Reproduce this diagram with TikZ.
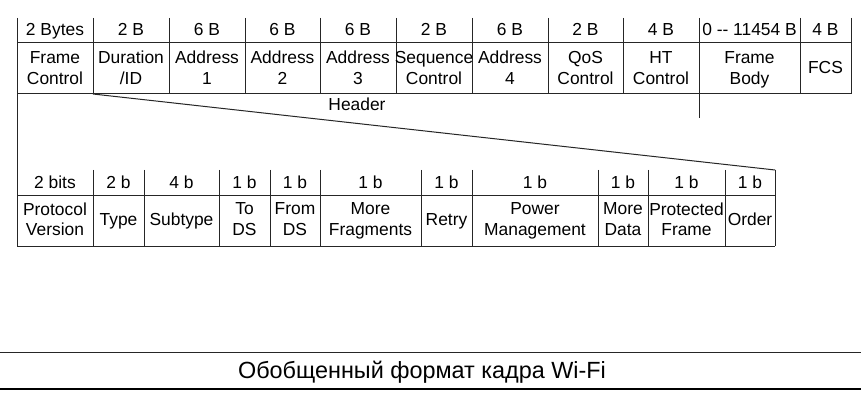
\documentclass[tikz,border=0pt]{standalone}
\usepackage{fontspec}
\setmainfont{Liberation Sans}
\begin{document}
\begin{tikzpicture}[x=1pt,y=-1pt,
  grid/.style={line width=1pt, draw=black!85},
  cell/.style={inner sep=0pt, align=center, font=\fontsize{17.4}{20.5}\selectfont},
  lbl/.style={cell, anchor=base},
  capt/.style={inner sep=0pt, anchor=base, font=\fontsize{23.4}{26}\selectfont}]
\useasboundingbox (0,0) rectangle (861,406);
\fill[white] (0,0) rectangle (861,406);
% ---------- top table (MAC frame) ----------
\foreach \l/\r/\sz/\nm [count=\i] in {
  17/93/{2 Bytes}/{Frame\\Control},
  93/169/{2 B}/{Duration\\/ID},
  169/245/{6 B}/{Address\\1},
  245/320/{6 B}/{Address\\2},
  320/396/{6 B}/{Address\\3},
  396/472/{2 B}/{Sequence\\Control},
  472/548/{6 B}/{Address\\4},
  548/623/{2 B}/{QoS\\Control},
  623/699/{4 B}/{HT\\Control},
  699/800/{0 {-}{-} 11454 B}/{Frame\\Body},
  800/851/{4 B}/{FCS}}{
  \node[lbl] (hs\i) at ({(\l+\r)/2},36) {\sz};
  \node[cell] (hf\i) at ({(\l+\r)/2},69.6) {\nm\vphantom{gy}};
  \draw[grid] (\r,18) -- (\r,94);
}
\draw[grid] (17,43) -- (851,43);
\draw[grid] (17,94) -- (851,94);
\draw[grid] (699,94) -- (699,118);
\node[lbl] (hdr) at (357,111) {Header};
% ---------- bottom table (Frame Control bits) ----------
\foreach \l/\r/\sz/\nm [count=\i] in {
  17/93/{2 bits}/{Protocol\\Version},
  93/144/{2 b}/{Type},
  144/219/{4 b}/{Subtype},
  219/270/{1 b}/{To\\DS},
  270/320/{1 b}/{From\\DS},
  320/421/{1 b}/{More\\Fragments},
  421/472/{1 b}/{Retry},
  472/598/{1 b}/{Power\\Management},
  598/648/{1 b}/{More\\Data},
  648/725/{1 b}/{Protected\\Frame},
  725/775/{1 b}/{Order}}{
  \node[lbl] (bs\i) at ({(\l+\r)/2},188) {\sz};
  \node[cell] (bf\i) at ({(\l+\r)/2},221) {\nm\vphantom{gy}};
  \draw[grid] (\r,170) -- (\r,246);
}
\draw[grid] (17,195) -- (775,195);
\draw[grid] (17,246) -- (775,246);
% left edge shared by both tables
\draw[grid] (17,18) -- (17,246);
% expansion of Frame Control
\coordinate (fcR) at (93,94);
\coordinate (bitsTR) at (775,170);
\draw[grid] (fcR) -- (bitsTR);
% ---------- caption ----------
\draw[line width=1pt, draw=black!85] (0,352) -- (861,352);
\draw[line width=2.5pt, draw=black] (0,389) -- (861,389);
\node[capt] (cap) at (422,378) {Обобщенный формат кадра Wi-Fi};
\end{tikzpicture}
\end{document}
